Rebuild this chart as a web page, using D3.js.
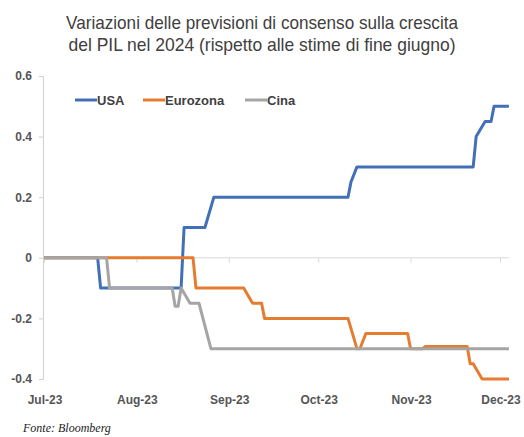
<!DOCTYPE html>
<html><head><meta charset="utf-8">
<script src="https://cdn.jsdelivr.net/npm/d3@7"></script>
<style>body{margin:0;background:#fff}svg{display:block}</style>
</head><body>
<script>
const titleLines = ["Variazioni delle previsioni di consenso sulla crescita",
                    "del PIL nel 2024 (rispetto alle stime di fine giugno)"];
const seriesNames = ["USA", "Eurozona", "Cina"];
const seriesColors = ["#4270b8", "#e57c2f", "#a5a5a5"];
const usaDates = ["2023-07-01","2023-07-19","2023-07-20","2023-08-16","2023-08-17","2023-08-24","2023-08-27","2023-10-11","2023-10-12","2023-10-14","2023-11-22","2023-11-23","2023-11-26","2023-11-28","2023-11-29","2023-12-04"];
const usaValues = [0,0,-0.1,-0.1,0.1,0.1,0.2,0.2,0.25,0.3,0.3,0.4,0.45,0.45,0.5,0.5];
const euroDates = ["2023-07-01","2023-08-20","2023-08-21","2023-09-06","2023-09-09","2023-09-12","2023-09-13","2023-10-11","2023-10-14","2023-10-15","2023-10-17","2023-10-31","2023-11-01","2023-11-05","2023-11-06","2023-11-20","2023-11-21","2023-11-22","2023-11-25","2023-12-04"];
const euroValues = [0,0,-0.1,-0.1,-0.15,-0.15,-0.2,-0.2,-0.3,-0.3,-0.25,-0.25,-0.3,-0.3,-0.293,-0.293,-0.35,-0.35,-0.4,-0.4];
const cinaDates = ["2023-07-01","2023-07-22","2023-07-23","2023-08-13","2023-08-14","2023-08-15","2023-08-16","2023-08-19","2023-08-22","2023-08-26","2023-12-04"];
const cinaValues = [0,0,-0.1,-0.1,-0.16,-0.16,-0.1,-0.15,-0.15,-0.3,-0.3];
const yTicks = [-0.4,-0.2,0,0.2,0.4,0.6];
const yTickLabels = ["-0.4","-0.2","0","0.2","0.4","0.6"];
const xTickDates = ["2023-07-01","2023-08-01","2023-09-01","2023-10-01","2023-11-01","2023-12-01"];
const xTickLabels = ["Jul-23","Aug-23","Sep-23","Oct-23","Nov-23","Dec-23"];
const sourceText = "Fonte: Bloomberg";

const W = 524, H = 437;
const parse = d3.timeParse("%Y-%m-%d");
const svg = d3.select("body").append("svg").attr("width", W).attr("height", H);

const x = d3.scaleTime().domain([parse("2023-07-01"), parse("2023-12-01")]).range([44, 500]);
const y = d3.scaleLinear().domain([-0.4, 0.6]).range([379, 76]);

// title
svg.selectAll("text.title").data(titleLines).join("text")
  .attr("x", 262).attr("y", (d,i) => 29 + i*22)
  .attr("text-anchor", "middle")
  .attr("font-family", "'Liberation Sans Narrow','Arial Narrow','Liberation Sans',sans-serif")
  .attr("font-size", 19).attr("fill", "#404040")
  .attr("textLength", (d,i) => i === 0 ? 392 : 387).attr("lengthAdjust", "spacingAndGlyphs")
  .text(d => d);

// y axis
const yAxis = d3.axisLeft(y).tickValues(yTicks).tickFormat((d,i) => yTickLabels[i]).tickSize(4).tickPadding(7);
const gy = svg.append("g").attr("transform", "translate(43,0)").call(yAxis);
gy.select(".domain").attr("stroke", "#d0d0d0");
gy.selectAll(".tick line").attr("stroke", "#d0d0d0");
gy.selectAll(".tick text").attr("font-family", "'Liberation Sans',Arial,sans-serif")
  .attr("font-size", 12).attr("font-weight", "bold").attr("fill", "#555");

// zero line with month ticks
const xAxis = d3.axisBottom(x).tickValues(xTickDates.map(parse)).tickFormat("").tickSize(5);
const gx = svg.append("g").attr("transform", `translate(0,${y(0)})`).call(xAxis);
gx.select(".domain").attr("stroke", "#d9d9d9").attr("d", `M43,0H509`);
gx.selectAll(".tick line").attr("stroke", "#d9d9d9");

// x labels at bottom
svg.selectAll("text.xl").data(xTickDates).join("text")
  .attr("x", d => x(parse(d)) + 1).attr("y", 404)
  .attr("text-anchor", "middle")
  .attr("font-family", "'Liberation Sans',Arial,sans-serif")
  .attr("font-size", 12).attr("font-weight", "bold").attr("fill", "#555")
  .text((d,i) => xTickLabels[i]);

// series
const series = [
  {name: seriesNames[0], color: seriesColors[0], pts: usaDates.map((d,i)=>({d:parse(d), v:usaValues[i]}))},
  {name: seriesNames[1], color: seriesColors[1], pts: euroDates.map((d,i)=>({d:parse(d), v:euroValues[i]}))},
  {name: seriesNames[2], color: seriesColors[2], pts: cinaDates.map((d,i)=>({d:parse(d), v:cinaValues[i]}))}
];
const line = d3.line().x(p => x(p.d)).y(p => y(p.v));
svg.selectAll("path.s").data(series).join("path")
  .attr("d", s => line(s.pts)).attr("fill", "none")
  .attr("stroke", s => s.color).attr("stroke-width", 3).attr("stroke-linejoin", "round");

// legend
const legX = [75, 143, 245];
const lg = svg.selectAll("g.leg").data(series).join("g")
  .attr("transform", (s,i) => `translate(${legX[i]},100)`);
lg.append("line").attr("x1", 0).attr("x2", 22).attr("stroke", s => s.color).attr("stroke-width", 3);
lg.append("text").attr("x", 22).attr("y", 4.5)
  .attr("font-family", "'Liberation Sans',Arial,sans-serif")
  .attr("font-size", 13).attr("font-weight", "bold").attr("fill", "#404040")
  .text(s => s.name);

// source
svg.append("text").attr("x", 23).attr("y", 432)
  .attr("font-family", "'Liberation Serif','Times New Roman',serif")
  .attr("font-style", "italic").attr("font-size", 12).attr("fill", "#222")
  .text(sourceText);
</script>
</body></html>
